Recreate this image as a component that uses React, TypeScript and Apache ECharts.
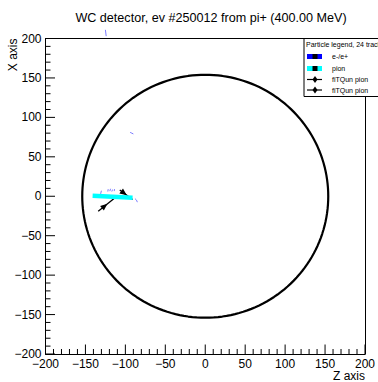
import React, { useEffect, useRef } from 'react';
import * as echarts from 'echarts';

const TITLE = 'WC detector, ev #250012 from pi+ (400.00 MeV)';
const X_TITLE = 'Z axis';
const Y_TITLE = 'X axis';
const AXIS_MIN = -200;
const AXIS_MAX = 200;
const AXIS_STEP = 50;
const MAJOR_TICKS = [-200, -150, -100, -50, 0, 50, 100, 150, 200];
const MINOR_STEP = 10;
const DETECTOR_RADIUS = 154;

// pion track (z, x)
const pionTrack: number[][] = [[-141, 0.5], [-91, -2]];

// short e-/e+ tracks (z, x)
const electronTracks: number[][][] = [
  [[-131, 3], [-130, 7]],
  [[-122, 6], [-121.5, 9]],
  [[-119.5, 6.5], [-118.5, 9.5]],
  [[-117, 6], [-116, 8.5]],
  [[-114, 6.5], [-113.5, 9]],
  [[-88, -3], [-86, -5], [-85, -7.5]],
  [[-125, 211], [-124, 203]],
  [[-94, 81], [-92, 80], [-90, 79]],
];

// fiTQun pion tracks (start, end) in (z, x)
const fitqunTracks: number[][][] = [
  [[-107, 8], [-91, -4]],
  [[-134, -19], [-113, -2]],
];

const LEGEND_TITLE = 'Particle legend, 24 tracks';
const LEGEND_LABELS = ['e-/e+', 'pion', 'fiTQun pion', 'fiTQun pion'];
const LEGEND_COLORS = ['#0000ff', '#00ffff', '#000000', '#000000'];

const FONT = 'Liberation Sans, Arial, Helvetica, sans-serif';

function fmt(v: number) {
  return String(v).replace('-', '\u2212');
}

function makeAxis(name: string, isY: boolean) {
  return {
    type: 'value',
    min: AXIS_MIN,
    max: AXIS_MAX,
    interval: AXIS_STEP,
    position: isY ? 'left' : 'bottom',
    name,
    nameLocation: 'end',
    nameGap: 0,
    nameRotate: isY ? 90 : 0,
    nameTextStyle: isY
      ? {
          fontFamily: FONT,
          fontSize: 12,
          color: '#000',
          align: 'right',
          verticalAlign: 'bottom',
          padding: [0, 0, 27, 0],
        }
      : {
          fontFamily: FONT,
          fontSize: 12,
          color: '#000',
          align: 'right',
          verticalAlign: 'top',
          padding: [16, 0, 0, 0],
        },
    axisLine: { show: true, onZero: false, lineStyle: { color: '#000', width: 1 } },
    axisTick: { show: false },
    minorTick: { show: false },
    splitLine: { show: false },
    axisLabel: {
      show: true,
      fontFamily: FONT,
      fontSize: 12,
      color: '#000',
      margin: 4,
      formatter: (v: number) => fmt(v),
    },
  };
}

function makeFrameAxis(isY: boolean) {
  return {
    type: 'value',
    min: AXIS_MIN,
    max: AXIS_MAX,
    interval: AXIS_STEP,
    position: isY ? 'right' : 'top',
    axisLine: { show: true, onZero: false, lineStyle: { color: '#000', width: 1 } },
    axisTick: { show: false },
    minorTick: { show: false },
    splitLine: { show: false },
    axisLabel: { show: false },
  };
}

export default function App() {
  const ref = useRef<HTMLDivElement>(null);
  useEffect(() => {
    if (!ref.current) return;
    const chart = echarts.init(ref.current, undefined, { renderer: 'svg' });

    const circle: number[][] = [];
    for (let i = 0; i <= 360; i += 2) {
      const a = (i * Math.PI) / 180;
      circle.push([DETECTOR_RADIUS * Math.cos(a), DETECTOR_RADIUS * Math.sin(a)]);
    }

    const legendX = 304;
    const legendY = 38.5;
    const rowY = [56.5, 68.5, 79.5, 90];
    const legendGraphics: any[] = [
      {
        type: 'rect',
        shape: { x: legendX, y: legendY, width: 90, height: 58 },
        style: { fill: '#fff', stroke: '#000', lineWidth: 1 },
        z: 100,
      },
      {
        type: 'text',
        x: legendX + 2,
        y: legendY + 5.5,
        style: { text: LEGEND_TITLE, font: `7px ${FONT}`, fill: '#000', verticalAlign: 'middle' },
        z: 101,
      },
    ];
    LEGEND_LABELS.forEach((lab, i) => {
      const y = rowY[i];
      const thick = i < 2;
      legendGraphics.push({
        type: 'line',
        shape: { x1: 307, y1: y, x2: 322, y2: y },
        style: { stroke: LEGEND_COLORS[i], lineWidth: thick ? 5 : 1.2 },
        z: 101,
      });
      if (thick) {
        legendGraphics.push({
          type: 'rect',
          shape: { x: 312.5, y: y - 2.5, width: 5, height: 5 },
          style: { fill: '#000' },
          z: 102,
        });
      } else {
        legendGraphics.push({
          type: 'polygon',
          shape: { points: [[315, y - 3.5], [317.5, y], [315, y + 3.5], [312.5, y]] },
          style: { fill: '#000' },
          z: 102,
        });
      }
      legendGraphics.push({
        type: 'text',
        x: 332,
        y: y,
        style: { text: lab, font: `7px ${FONT}`, fill: '#000', verticalAlign: 'middle' },
        z: 101,
      });
    });

    chart.setOption({
      animation: false,
      backgroundColor: '#fff',
      title: {
        text: TITLE,
        left: 206,
        top: 6,
        textAlign: 'center',
        textStyle: { fontFamily: FONT, fontSize: 12.6, fontWeight: 'normal', color: '#000' },
      },
      grid: {
        left: 45.5,
        top: 38.5,
        width: 321,
        height: 317,
        show: false,
      },
      xAxis: [makeAxis(X_TITLE, false), makeFrameAxis(false)],
      yAxis: [makeAxis(Y_TITLE, true), makeFrameAxis(true)],
      series: [
        {
          type: 'line',
          data: circle,
          showSymbol: false,
          symbol: 'none',
          lineStyle: { color: '#000', width: 2.2 },
          silent: true,
        },
        {
          type: 'line',
          data: pionTrack,
          symbol: 'none',
          lineStyle: { color: '#00ffff', width: 4.5 },
          silent: true,
        },
        {
          type: 'lines',
          coordinateSystem: 'cartesian2d',
          polyline: true,
          clip: false,
          data: electronTracks.map((c) => ({ coords: c })),
          lineStyle: { color: '#5a5aff', width: 1, opacity: 0.8 },
          silent: true,
        },
        {
          type: 'custom',
          coordinateSystem: 'cartesian2d',
          silent: true,
          data: fitqunTracks.map((t) => [t[0][0], t[0][1], t[1][0], t[1][1]]),
          encode: { x: [0, 2], y: [1, 3] },
          renderItem: (params: any, api: any) => {
            const p0 = api.coord([api.value(0), api.value(1)]);
            const p1 = api.coord([api.value(2), api.value(3)]);
            const dx = p1[0] - p0[0];
            const dy = p1[1] - p0[1];
            const L = Math.hypot(dx, dy) || 1;
            const ux = dx / L;
            const uy = dy / L;
            const nx = -uy;
            const ny = ux;
            const tx = p0[0] + dx * 0.55;
            const ty = p0[1] + dy * 0.55;
            const bx = tx - ux * 7;
            const by = ty - uy * 7;
            const w = 3;
            return {
              type: 'group',
              children: [
                {
                  type: 'line',
                  shape: { x1: p0[0], y1: p0[1], x2: p1[0], y2: p1[1] },
                  style: { stroke: '#000', lineWidth: 1.3 },
                },
                {
                  type: 'polygon',
                  shape: {
                    points: [
                      [tx, ty],
                      [bx + nx * w, by + ny * w],
                      [bx - nx * w, by - ny * w],
                    ],
                  },
                  style: { fill: '#000' },
                },
              ],
            };
          },
        },
      ],
    });

    // tick marks placed through the axes' own scales
    const tickGraphics: any[] = [];
    const finder = { xAxisIndex: 0, yAxisIndex: 0 };
    for (let v = AXIS_MIN; v <= AXIS_MAX; v += MINOR_STEP) {
      const len = MAJOR_TICKS.indexOf(v) >= 0 ? 9.5 : 5;
      const px = chart.convertToPixel(finder, [v, AXIS_MIN]) as number[];
      const py = chart.convertToPixel(finder, [AXIS_MIN, v]) as number[];
      if (px && py) {
        tickGraphics.push({
          type: 'line',
          shape: { x1: px[0], y1: px[1], x2: px[0], y2: px[1] - len },
          style: { stroke: '#000', lineWidth: 1 },
          z: 50,
          silent: true,
        });
        tickGraphics.push({
          type: 'line',
          shape: { x1: py[0], y1: py[1], x2: py[0] + len, y2: py[1] },
          style: { stroke: '#000', lineWidth: 1 },
          z: 50,
          silent: true,
        });
      }
    }

    chart.setOption({ graphic: [...tickGraphics, ...legendGraphics] });
    return () => chart.dispose();
  }, []);
  return (
    <div
      ref={ref}
      style={{ position: 'fixed', left: 0, top: 0, width: 378, height: 382, background: '#fff' }}
    />
  );
}
